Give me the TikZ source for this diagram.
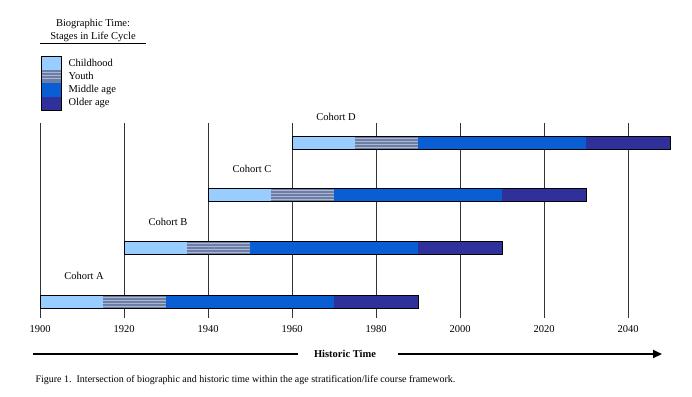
\documentclass[tikz,border=0pt]{standalone}
\usepackage{fontspec}
\setmainfont{Liberation Serif}
\usetikzlibrary{arrows.meta,calc}
\definecolor{childc}{HTML}{99CCFF}
\definecolor{youthc}{HTML}{6D7EA6}
\definecolor{youthl}{HTML}{AAB7D2}
\definecolor{middlec}{HTML}{0A5ED3}
\definecolor{olderc}{HTML}{30309A}

\begin{document}
\begin{tikzpicture}[x=1pt,y=-1pt,font=\fontsize{10.5}{12}\selectfont,
  gridline/.style={draw=black!80,line width=1pt},
  barline/.style={draw=black,line width=0.8pt},
  stripe/.style={youthl,line width=0.5pt},
  histline/.style={line width=2pt}]
\useasboundingbox (0,0) rectangle (692,396);

% legend
\node (bio) at (93,24) {Biographic Time:};
\node (stages) at (93,37) {Stages in Life Cycle};
\coordinate (ula) at (40,43.5);
\coordinate (ulb) at (146,43.5);
\draw[line width=1pt] (ula) -- (ulb);
\foreach \i/\c/\t in {0/childc/Childhood,1/youthc/Youth,2/middlec/Middle age,3/olderc/Older age}{
  \fill[\c] (41,56+13.5*\i) rectangle ++(20,13.5);
  \node[anchor=west] (leg\i) at (65,62.75+13.5*\i) {\t};
}
\foreach \s in {72.5,75.5,78.5} \draw[stripe] (41,\s) -- ++(20,0);
\draw[barline] (41,56) rectangle (61,110);

% historic time grid
\foreach \yr in {1900,1920,...,2040}{
  \pgfmathsetmacro{\xx}{40+4.2*(\yr-1900)}
  \coordinate (top\yr) at (\xx,123);
  \coordinate (bot\yr) at (\xx,318);
  \node (year\yr) at (\xx,329) {\yr};
  \draw[gridline] (top\yr) -- (bot\yr);
}

% cohorts
\foreach \start/\yc/\name in {1900/301.5/A,1920/248/B,1940/195/C,1960/142.5/D}{
  \pgfmathsetmacro{\xa}{40+4.2*(\start-1900)}
  \fill[childc] (\xa,\yc-6.5) rectangle ++(63,13);
  \fill[youthc] (\xa+63,\yc-6.5) rectangle ++(63,13);
  \foreach \s in {-4.5,-1.5,1.5,4.5} \draw[stripe] (\xa+63,\yc+\s) -- ++(63,0);
  \fill[middlec] (\xa+126,\yc-6.5) rectangle ++(168,13);
  \fill[olderc] (\xa+294,\yc-6.5) rectangle ++(84,13);
  \draw[barline] (\xa,\yc-6.5) rectangle ++(378,13);
  \node (cohort\name) at (\xa+44,\yc-26) {Cohort \name};
}

% historic time arrow
\node[font=\fontsize{10.5}{12}\selectfont\bfseries] (hist) at (345,354) {Historic Time};
\coordinate (ha) at (33,354);
\coordinate (hb) at (298,354);
\coordinate (hc) at (398,354);
\coordinate (hd) at (662,354);
\draw[histline] (ha) -- (hb);
\draw[histline,-{Triangle[length=9pt,width=8pt]}] (hc) -- (hd);

\node[anchor=west,font=\fontsize{10}{12}\selectfont] (caption) at (32,380)
  {Figure 1.\ \ Intersection of biographic and historic time within the age stratification/life course framework.};
\end{tikzpicture}
\end{document}
